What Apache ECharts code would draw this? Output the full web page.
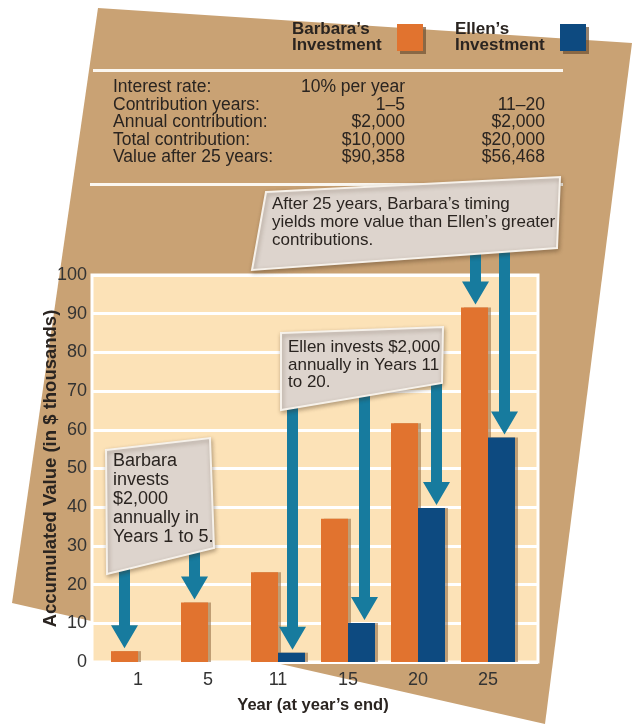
<!DOCTYPE html>
<html><head><meta charset="utf-8">
<script src="https://cdn.jsdelivr.net/npm/echarts/dist/echarts.min.js"></script>
<style>html,body{margin:0;padding:0;background:#fff}#c{width:636px;height:725px}</style>
</head><body><div id="c"></div>
<script>
// ---------- data ----------
const categories = ['1', '5', '11', '15', '20', '25'];
const barbaraValues = [2.8, 15.4, 23.2, 37.0, 61.7, 91.6];
const ellenValues = [null, null, 2.4, 10.1, 39.8, 58.0];
const seriesNames = ['Barbara’s\nInvestment', 'Ellen’s\nInvestment'];
const tableLabels = ['Interest rate:', 'Contribution years:', 'Annual contribution:', 'Total contribution:', 'Value after 25 years:'];
const barbaraTable = ['10% per year', '1–5', '$2,000', '$10,000', '$90,358'];
const ellenTable = ['', '11–20', '$2,000', '$20,000', '$56,468'];
const noteTop = 'After 25 years, Barbara’s timing\nyields more value than Ellen’s greater\ncontributions.';
const noteBarbara = 'Barbara\ninvests\n$2,000\nannually in\nYears 1 to 5.';
const noteEllen = 'Ellen invests $2,000\nannually in Years 11\nto 20.';
const yAxisTitle = 'Accumulated Value (in $ thousands)';
const xAxisTitle = 'Year (at year’s end)';

// arrows: [category index, series (0 Barbara / 1 Ellen), shaft start y (px), x nudge]
const arrowSpecs = [[0, 0, 560, 0], [1, 0, 540, 0], [2, 1, 400, 1], [3, 1, 390, 3], [4, 1, 376, 5], [5, 0, 240, 1], [5, 1, 240, 3]];

// ---------- styles ----------
const ORANGE = '#e1732f', BLUE = '#0d4a80', TEAL = '#177b9e', TAN = '#c9a274', CREAM = '#fce2b7';
const INK = '#2a2420';
const NARROW = '"Liberation Sans Narrow", "Liberation Sans", sans-serif';
const SANS = '"Liberation Sans", Arial, sans-serif';
const BAR_W = 27;

const chart = echarts.init(document.getElementById('c'));

const arrowData = arrowSpecs.map(a => {
  const v = a[1] === 0 ? barbaraValues[a[0]] : ellenValues[a[0]];
  return [a[0], v, a[1], a[2], a[3]];
});

const graphics = [];
graphics.push({ type: 'polygon', z: -10, shape: { points: [[98, 8], [632, 43], [545, 724], [12, 603]] }, style: { fill: TAN } });
// table separator lines
graphics.push({ type: 'rect', z: 1, shape: { x: 93, y: 69, width: 470, height: 3 }, style: { fill: '#fbf7f0' } });
graphics.push({ type: 'rect', z: 1, shape: { x: 90, y: 183, width: 473, height: 3 }, style: { fill: '#fbf7f0' } });
const rowY = [87, 105, 122, 140, 157];
tableLabels.forEach((t, i) => {
  graphics.push({ type: 'text', z: 5, style: { text: t, x: 113, y: rowY[i], fill: INK, font: '17.5px ' + NARROW, textAlign: 'left', textVerticalAlign: 'middle' } });
  graphics.push({ type: 'text', z: 5, style: { text: barbaraTable[i], x: 405, y: rowY[i], fill: INK, font: '17.5px ' + NARROW, textAlign: 'right', textVerticalAlign: 'middle' } });
  graphics.push({ type: 'text', z: 5, style: { text: ellenTable[i], x: 545, y: rowY[i], fill: INK, font: '17.5px ' + NARROW, textAlign: 'right', textVerticalAlign: 'middle' } });
});
function noteBox(points, text, tx, ty, size, lh) {
  graphics.push({ type: 'polygon', z: 50, shape: { points: points },
    style: { fill: '#ddd4cd', stroke: '#f6f1ea', lineWidth: 2, shadowBlur: 4, shadowColor: 'rgba(60,40,20,0.35)', shadowOffsetX: 1, shadowOffsetY: 2 } });
  graphics.push({ type: 'text', z: 51, style: { text: text, x: tx, y: ty, fill: INK, font: size + 'px ' + NARROW, lineHeight: lh, textAlign: 'left', textVerticalAlign: 'top' } });
}
noteBox([[266, 192], [560, 177], [557, 248], [252, 270]], noteTop, 272, 195, 17, 18);
noteBox([[106, 450], [210, 438], [214, 548], [107, 574]], noteBarbara, 113, 452, 18, 19);
noteBox([[281, 333], [443, 327], [442, 383], [281, 410]], noteEllen, 288, 339, 17, 17.5);

const option = {
  animation: false,
  backgroundColor: '#ffffff',
  legend: {
    data: seriesNames, left: 287, top: 16, align: 'right', icon: 'rect', itemWidth: 26, itemHeight: 27, itemGap: 32,
    selectedMode: false,
    itemStyle: { shadowBlur: 0, shadowOffsetX: 3, shadowOffsetY: 3, shadowColor: 'rgba(110,80,50,0.7)' },
    formatter: function (name) { return name.split('\n').map(s => '{a|' + s + '}').join('\n'); },
    textStyle: { padding: [0, 8, 0, 0],
      rich: { a: { width: 92, align: 'left', fontFamily: SANS, fontWeight: 'bold', fontSize: 17, lineHeight: 16, color: INK } } }
  },
  grid: [
    { left: 92, right: 98, top: 275, bottom: 63, show: true, backgroundColor: CREAM, borderColor: '#ffffff', borderWidth: 3 },
    { left: 103, right: 113, top: 275, bottom: 63 }
  ],
  xAxis: [
    { gridIndex: 0, type: 'value', min: 0, max: 1, show: false },
    { gridIndex: 1, type: 'category', data: categories,
      axisLine: { show: false }, axisTick: { show: false },
      axisLabel: { color: '#333', fontFamily: SANS, fontSize: 18, margin: 9 },
      name: xAxisTitle, nameLocation: 'middle', nameGap: 35,
      nameTextStyle: { color: INK, fontFamily: SANS, fontWeight: 'bold', fontSize: 16.5 } }
  ],
  yAxis: [
    { gridIndex: 0, type: 'value', min: 0, max: 100, interval: 10,
      axisLine: { show: false }, axisTick: { show: false },
      axisLabel: { color: '#333', fontFamily: SANS, fontSize: 18, margin: 5 },
      splitLine: { show: true, lineStyle: { color: '#ffffff', width: 3 } },
      name: yAxisTitle, nameLocation: 'middle', nameGap: 32, nameMoveOverlap: false,
      nameTextStyle: { color: INK, fontFamily: SANS, fontWeight: 'bold', fontSize: 18.5 } },
    { gridIndex: 1, type: 'value', min: 0, max: 100, interval: 10, show: false }
  ],
  series: [
    { name: seriesNames[0], type: 'bar', xAxisIndex: 1, yAxisIndex: 1, data: barbaraValues, barWidth: BAR_W, barGap: '0%', z: 3,
      itemStyle: { color: ORANGE, shadowBlur: 0, shadowOffsetX: 3, shadowOffsetY: 0, shadowColor: 'rgba(140,100,60,0.55)' } },
    { name: seriesNames[1], type: 'bar', xAxisIndex: 1, yAxisIndex: 1, data: ellenValues, barWidth: BAR_W, barGap: '0%', z: 3,
      itemStyle: { color: BLUE, shadowBlur: 0, shadowOffsetX: 3, shadowOffsetY: 0, shadowColor: 'rgba(140,100,60,0.55)' } },
    { type: 'custom', xAxisIndex: 1, yAxisIndex: 1, z: 10, data: arrowData, silent: true,
      renderItem: function (params, api) {
        const cat = api.value(0), val = api.value(1), who = api.value(2), y0 = api.value(3), nudge = api.value(4);
        const p = api.coord([cat, val]);
        const x = p[0] + (who === 0 ? -BAR_W / 2 : BAR_W / 2) + nudge;
        const tip = p[1] - 3;
        const w = 11, hw = 27, hh = 23;
        return { type: 'polygon', shape: { points: [
          [x - w / 2, y0], [x + w / 2, y0], [x + w / 2, tip - hh], [x + hw / 2, tip - hh], [x, tip],
          [x - hw / 2, tip - hh], [x - w / 2, tip - hh]] }, style: { fill: TEAL } };
      } }
  ],
  graphic: graphics
};
chart.setOption(option);
</script></body></html>
